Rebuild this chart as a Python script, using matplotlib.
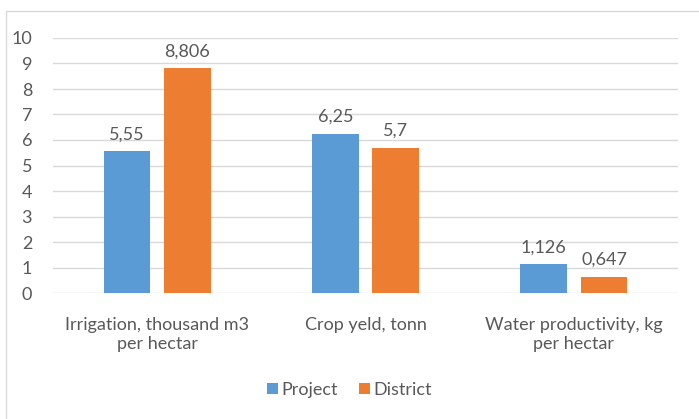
import numpy as np
import matplotlib.pyplot as plt
from matplotlib.patches import Rectangle

categories = ["Irrigation, thousand m3\nper hectar", "Crop yeld, tonn", "Water productivity, kg\nper hectar"]
project = [5.55, 6.25, 1.126]
district = [8.806, 5.7, 0.647]
project_labels = ["5,55", "6,25", "1,126"]
district_labels = ["8,806", "5,7", "0,647"]
yticks = list(range(0, 11))

plt.rcParams['font.family'] = ['Lato', 'DejaVu Sans']
text_col = '#595959'

fig = plt.figure(figsize=(6.99, 4.19), dpi=100)
ax = fig.add_axes([53 / 699, 1 - 293 / 419, 625 / 699, 255 / 419])

# chart border
fig.patches.append(Rectangle((6 / 699, -0.01), 1.0, 1 - 11 / 419 + 0.01, transform=fig.transFigure,
                             fill=False, edgecolor='#D9D9D9', lw=1))

x = np.arange(len(categories))
w = 0.225
off = 0.145
b1 = ax.bar(x - off, project, w, color='#5B9BD5', label='Project', zorder=3)
b2 = ax.bar(x + off, district, w, color='#ED7D31', label='District', zorder=3)

for rect, lab in zip(b1, project_labels):
    ax.text(rect.get_x() + rect.get_width() / 2, rect.get_height() + 0.35, lab,
            ha='center', va='bottom', fontsize=13, color=text_col)
for rect, lab in zip(b2, district_labels):
    ax.text(rect.get_x() + rect.get_width() / 2, rect.get_height() + 0.35, lab,
            ha='center', va='bottom', fontsize=13, color=text_col)

ax.set_xlim(-0.5, 2.5)
ax.set_ylim(0, 10)
ax.set_yticks(yticks)
ax.set_xticks(x)
ax.set_xticklabels(categories, fontsize=13, color=text_col, linespacing=1.25)
ax.tick_params(axis='y', labelsize=13, colors=text_col, length=0, pad=15)
ax.tick_params(axis='x', length=0, pad=17)
ax.yaxis.grid(True, color='#D9D9D9', lw=1, zorder=0)
for s in ax.spines.values():
    s.set_visible(False)

fig.legend(loc='center', bbox_to_anchor=(0.5, 1 - 390 / 419), ncol=2, frameon=False,
           fontsize=13, labelcolor=text_col, handlelength=0.6, handleheight=0.6,
           handletextpad=0.2, columnspacing=1.2)

fig.savefig('out.png', dpi=100)
